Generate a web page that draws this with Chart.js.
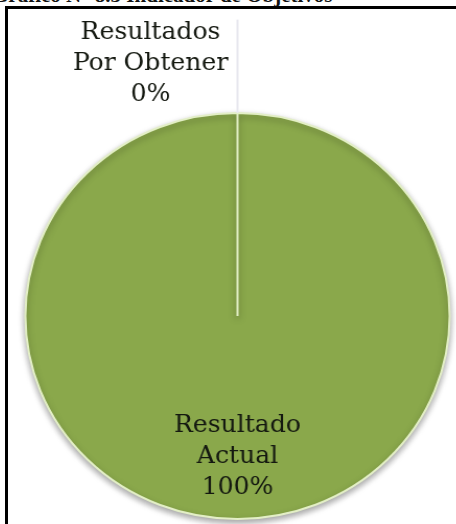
<!DOCTYPE html>
<html>
<head>
<meta charset="utf-8">
<script src="https://cdn.jsdelivr.net/npm/chart.js@4/dist/chart.umd.min.js"></script>
<style>
  html, body { margin: 0; padding: 0; background: #fff; overflow: hidden; }
  body { width: 456px; height: 524px; position: relative; }
  #caption {
    position: absolute; left: -8px; top: -17px; white-space: nowrap;
    font: bold 21px "Liberation Serif", serif; color: #111; line-height: 24px;
  }
  #frame {
    position: absolute; left: 5px; top: 6px; width: 480px; height: 560px;
    border-left: 3px solid #000; border-top: 3px solid #000; box-sizing: border-box;
  }
  #wrap {
    position: absolute; left: 0; top: 0; width: 456px; height: 524px;
    transform: scaleX(1.045); transform-origin: 237.5px 316px;
  }
</style>
</head>
<body>
<div id="caption">Gráfico N° 8.3 Indicador de Objetivos</div>
<div id="frame"></div>
<div id="wrap"><canvas id="chart"></canvas></div>
<script>
// Categories and their values (percent of objectives)
const categories = ['Resultados Por Obtener', 'Resultado Actual'];
const labelLines = [['Resultados', 'Por Obtener'], ['Resultado', 'Actual']];
const values = [0, 100];
const sliceColors = ['#8aa84b', '#8aa84b'];

const total = values.reduce((a, b) => a + b, 0);

// Soft drop shadow under the pie
const shadowPlugin = {
  id: 'pieShadow',
  beforeDatasetDraw(chart) {
    const ctx = chart.ctx;
    ctx.save();
    ctx.shadowColor = 'rgba(0,0,0,0.35)';
    ctx.shadowBlur = 6;
    ctx.shadowOffsetY = 3;
  },
  afterDatasetDraw(chart) {
    chart.ctx.restore();
  }
};

// Category name + percentage labels, with a leader line for the empty slice
const sliceLabels = {
  id: 'sliceLabels',
  afterDatasetsDraw(chart) {
    const ctx = chart.ctx;
    const meta = chart.getDatasetMeta(0);
    ctx.save();
    ctx.font = '24px "DejaVu Serif", serif';
    ctx.fillStyle = '#141810';
    ctx.textAlign = 'center';
    ctx.textBaseline = 'alphabetic';
    const lh = 31;
    meta.data.forEach((arc, i) => {
      const p = arc.getProps(['x', 'y', 'startAngle', 'endAngle', 'outerRadius']);
      const mid = (p.startAngle + p.endAngle) / 2;
      const pct = Math.round(values[i] / total * 100) + '%';
      const lines = labelLines[i].concat([pct]);
      if (values[i] === 0) {
        // outside label, above the rim, joined by a leader line
        const ex = p.x + Math.cos(mid) * p.outerRadius;
        const ey = p.y + Math.sin(mid) * p.outerRadius;
        ctx.strokeStyle = '#e7e7ee';
        ctx.lineWidth = 2;
        ctx.beginPath();
        ctx.moveTo(ex, ey);
        ctx.lineTo(ex, ey - p.outerRadius * 0.46);
        ctx.stroke();
        const tx = ex - p.outerRadius * 0.41;
        const lastBase = ey - p.outerRadius * 0.06;
        lines.forEach((t, k) => ctx.fillText(t, tx, lastBase - (lines.length - 1 - k) * lh));
      } else {
        const r = p.outerRadius * 0.57;
        const tx = p.x + Math.cos(mid) * r;
        const ty = p.y + Math.sin(mid) * r;
        lines.forEach((t, k) => ctx.fillText(t, tx, ty + k * lh));
      }
    });
    ctx.restore();
  }
};

new Chart(document.getElementById('chart'), {
  type: 'pie',
  data: {
    labels: categories,
    datasets: [{
      data: values,
      backgroundColor: sliceColors,
      borderColor: '#e3efc6',
      borderWidth: 2
    }]
  },
  options: {
    responsive: true,
    maintainAspectRatio: false,
    animation: false,
    layout: { padding: { top: 112, bottom: 4, left: 20, right: 1 } },
    plugins: { legend: { display: false }, tooltip: { enabled: false }, title: { display: false } }
  },
  plugins: [shadowPlugin, sliceLabels]
});
</script>
</body>
</html>
